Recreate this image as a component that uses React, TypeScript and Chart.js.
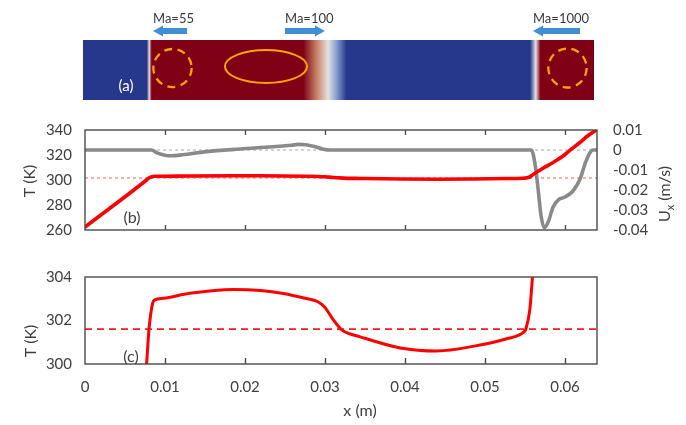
import { useEffect, useRef } from 'react';
import { Chart, registerables } from 'chart.js';

Chart.register(...registerables);

const FONT_FAMILY = 'Lato, "Open Sans", sans-serif';
const INK = '#404040';
const FRAME = '#4a4a4a';

// Shared horizontal axis: position along the channel (m)
const X_MAX = 0.064;
const xTicks = [0, 0.01, 0.02, 0.03, 0.04, 0.05, 0.06];
const xTickLabels = ['0', '0.01', '0.02', '0.03', '0.04', '0.05', '0.06'];

// Temperature profile T(x), K
const tempX = [
  0, 0.0077, 0.008, 0.00846, 0.00875, 0.0098, 0.0131, 0.0185, 0.022, 0.0248, 0.0275,
  0.0291, 0.03, 0.031, 0.0318, 0.0323, 0.0344, 0.0394, 0.044, 0.0485, 0.0527, 0.0548,
  0.0551, 0.0556, 0.056, 0.0573, 0.0585, 0.0598, 0.0606, 0.0619, 0.0629, 0.064,
];
const tempK = [
  262.4, 300.0, 301.6, 302.8, 302.95, 303.02, 303.25, 303.43, 303.38, 303.24, 303.02,
  302.86, 302.6, 302.05, 301.68, 301.52, 301.25, 300.74, 300.6, 300.81, 301.16, 301.45,
  301.6, 302.5, 304.3, 309.6, 314.0, 319.4, 323.7, 330.2, 335.6, 340.4,
];

// Axial velocity profile Ux(x), m/s
const velX = [
  0, 0.0083, 0.009, 0.01, 0.0108, 0.0122, 0.0152, 0.0194, 0.0235, 0.0258, 0.0267,
  0.0276, 0.0287, 0.0298, 0.0306, 0.0558, 0.0563, 0.0567, 0.057, 0.0574, 0.0579,
  0.0585, 0.0592, 0.06, 0.061, 0.0619, 0.0625, 0.0631, 0.0635, 0.064,
];
const velUx = [
  0, 0, -0.0014, -0.0026, -0.0029, -0.0024, -0.0008, 0.0005, 0.0016, 0.0024, 0.0028,
  0.0026, 0.0017, 0.0004, 0, 0, -0.0083, -0.0218, -0.0327, -0.0388, -0.036,
  -0.0286, -0.0248, -0.0235, -0.0205, -0.0144, -0.0069, -0.0015, 0, 0,
];

// Reference levels
const tempRef = 301.6;
const velRef = 0;

// Vertical axes
const tTicksFull = [260, 280, 300, 320, 340];
const uTicks = [-0.04, -0.03, -0.02, -0.01, 0, 0.01];
const uTickLabels = ['-0.04', '-0.03', '-0.02', '-0.01', '0', '0.01'];
const tTicksZoom = [300, 302, 304];

// Phase indicator along the channel (0 = gas, 1 = liquid)
const phaseX = [0, 0.008, 0.0083, 0.0086, 0.0276, 0.0293, 0.0307, 0.0318, 0.033, 0.056, 0.0567, 0.0573, 0.064];
const phaseV = [0, 0, 0.5, 1, 1, 0.75, 0.5, 0.25, 0, 0, 0.5, 1, 1];

// Vortex outlines in the field: centre (x, relative height) and semi-axes
const vortexX = [0.01121, 0.02292, 0.06068];
const vortexY = [0.533, 0.558, 0.533];
const vortexRx = [0.0024, 0.00514, 0.0024];
const vortexRy = [0.317, 0.275, 0.325];
const vortexDashed = [true, false, true];

// Interface motion: label, arrow tail and head (x, m)
const machLabels = ['Ma=55', 'Ma=100', 'Ma=1000'];
const arrowTail = [0.01303, 0.0253, 0.06225];
const arrowHead = [0.00877, 0.0303, 0.05636];

const PHASE_RAMP = [
  [38, 56, 140],
  [128, 155, 206],
  [228, 226, 222],
  [200, 132, 104],
  [128, 0, 22],
];

function phaseColor(v: number) {
  const t = Math.max(0, Math.min(1, v)) * 4;
  const i = Math.min(3, Math.floor(t));
  const f = t - i;
  const a = PHASE_RAMP[i];
  const b = PHASE_RAMP[i + 1];
  const c = a.map((av, k) => Math.round(av + (b[k] - av) * f));
  return `rgb(${c[0]},${c[1]},${c[2]})`;
}

function font(size: number) {
  return `${size}px ${FONT_FAMILY}`;
}

function drawText(
  ctx: CanvasRenderingContext2D,
  s: string,
  x: number,
  y: number,
  size: number,
  color: string,
  rotate = false,
  align: CanvasTextAlign = 'center'
) {
  ctx.save();
  ctx.translate(x, y);
  if (rotate) ctx.rotate(-Math.PI / 2);
  ctx.font = font(size);
  ctx.fillStyle = color;
  ctx.textAlign = align;
  ctx.textBaseline = 'middle';
  ctx.fillText(s, 0, 0);
  ctx.restore();
}

function drawUxTitle(ctx: CanvasRenderingContext2D, cx: number, cy: number) {
  ctx.save();
  ctx.translate(cx, cy);
  ctx.rotate(-Math.PI / 2);
  ctx.fillStyle = INK;
  ctx.textBaseline = 'middle';
  ctx.textAlign = 'left';
  ctx.font = font(16);
  const wU = ctx.measureText('U').width;
  const wRest = ctx.measureText(' (m/s)').width;
  ctx.font = font(11);
  const wx = ctx.measureText('x').width;
  let x = -(wU + wx + wRest) / 2;
  ctx.font = font(16);
  ctx.fillText('U', x, 0);
  x += wU;
  ctx.font = font(11);
  ctx.fillText('x', x, 5);
  x += wx;
  ctx.font = font(16);
  ctx.fillText(' (m/s)', x, 0);
  ctx.restore();
}

function drawFrame(chart: Chart, topTicks: number, bottomTicks: number) {
  const { ctx, chartArea: a } = chart;
  const xs = chart.scales.x;
  ctx.save();
  ctx.strokeStyle = FRAME;
  ctx.lineWidth = 1.4;
  ctx.setLineDash([]);
  ctx.strokeRect(a.left, a.top, a.right - a.left, a.bottom - a.top);
  ctx.beginPath();
  xTicks.forEach((v) => {
    if (v <= 0) return;
    const px = Math.round(xs.getPixelForValue(v)) + 0.5;
    if (topTicks > 0) {
      ctx.moveTo(px, a.top);
      ctx.lineTo(px, a.top + topTicks);
    }
    if (bottomTicks > 0) {
      ctx.moveTo(px, a.bottom);
      ctx.lineTo(px, a.bottom - bottomTicks);
    }
  });
  ctx.stroke();
  ctx.restore();
}

const fieldPlugin = {
  id: 'phaseField',
  afterDraw(chart: Chart) {
    const { ctx, chartArea: a } = chart;
    const xs = chart.scales.x;
    const ys = chart.scales.y;
    ctx.save();

    // phase field colour band
    const grad = ctx.createLinearGradient(a.left, 0, a.right, 0);
    phaseX.forEach((v, i) => {
      const f = (xs.getPixelForValue(v) - a.left) / (a.right - a.left);
      grad.addColorStop(Math.max(0, Math.min(1, f)), phaseColor(phaseV[i]));
    });
    ctx.fillStyle = grad;
    ctx.fillRect(a.left, a.top, a.right - a.left, a.bottom - a.top);

    // vortex outlines
    ctx.strokeStyle = '#f7a400';
    vortexX.forEach((v, i) => {
      const cx = xs.getPixelForValue(v);
      const cy = ys.getPixelForValue(vortexY[i]);
      const rx = xs.getPixelForValue(v + vortexRx[i]) - cx;
      const ry = cy - ys.getPixelForValue(vortexY[i] + vortexRy[i]);
      ctx.lineWidth = vortexDashed[i] ? 2.3 : 2;
      ctx.setLineDash(vortexDashed[i] ? [8, 5.5] : []);
      ctx.beginPath();
      ctx.ellipse(cx, cy, rx, ry, 0, 0, Math.PI * 2);
      ctx.stroke();
    });
    ctx.setLineDash([]);

    // interface arrows with Mach labels
    const cy = a.top - 9;
    const shaft = 3;
    const head = 5.5;
    const headLen = 10;
    ctx.fillStyle = '#3f8fd2';
    machLabels.forEach((label, i) => {
      const tx = xs.getPixelForValue(arrowTail[i]);
      const hx = xs.getPixelForValue(arrowHead[i]);
      const dir = Math.sign(tx - hx);
      const nx = hx + dir * headLen;
      ctx.beginPath();
      ctx.moveTo(hx, cy);
      ctx.lineTo(nx, cy - head);
      ctx.lineTo(nx, cy - shaft);
      ctx.lineTo(tx, cy - shaft);
      ctx.lineTo(tx, cy + shaft);
      ctx.lineTo(nx, cy + shaft);
      ctx.lineTo(nx, cy + head);
      ctx.closePath();
      ctx.fill();
      drawText(ctx, label, Math.min(tx, hx), a.top - 21, 13, '#3a3a3a', false, 'left');
    });

    drawText(ctx, '(a)', a.left + 43, a.top + 46, 15, '#ffffff');
    ctx.restore();
  },
};

const fullPlugin = {
  id: 'fullProfileDecor',
  afterDatasetsDraw(chart: Chart) {
    drawFrame(chart, 5, 5);
  },
  afterDraw(chart: Chart) {
    const { ctx, chartArea: a } = chart;
    drawText(ctx, 'T (K)', a.left - 55, a.top + 51, 16, INK, true);
    drawUxTitle(ctx, a.right + 68, a.top + 64);
    drawText(ctx, '(b)', a.left + 47, a.bottom - 12, 16, INK);
  },
};

const zoomPlugin = {
  id: 'zoomProfileDecor',
  afterDatasetsDraw(chart: Chart) {
    drawFrame(chart, 0, 6);
  },
  afterDraw(chart: Chart) {
    const { ctx, chartArea: a } = chart;
    drawText(ctx, 'T (K)', a.left - 54, a.top + 64, 16, INK, true);
    drawText(ctx, '(c)', a.left + 46, a.bottom - 7, 16, INK);
    drawText(ctx, 'x (m)', (a.left + a.right) / 2 + 19, a.bottom + 47, 16, INK);
  },
};

const tempPoints = tempX.map((x, i) => ({ x, y: tempK[i] }));
const velPoints = velX.map((x, i) => ({ x, y: velUx[i] }));

function refLine(value: number) {
  return [
    { x: 0, y: value },
    { x: X_MAX, y: value },
  ];
}

const tickFont = { family: FONT_FAMILY, size: 15 };

function valueAxis(position: 'left' | 'right', min: number, max: number, ticks: number[], labels: string[], width: number, padding: number) {
  return {
    type: 'linear' as const,
    position,
    min,
    max,
    grid: { display: false, drawTicks: false },
    border: { display: false },
    ticks: {
      padding,
      color: INK,
      font: tickFont,
      autoSkip: false,
      callback: (_v: any, i: number) => labels[i],
    },
    afterBuildTicks: (s: any) => {
      s.ticks = ticks.map((value) => ({ value }));
    },
    afterFit: (s: any) => {
      s.width = width;
    },
  };
}

const lineStyle = {
  pointRadius: 0,
  fill: false,
  cubicInterpolationMode: 'monotone' as const,
  borderJoinStyle: 'round' as const,
  borderCapStyle: 'round' as const,
};

export default function App() {
  const fieldRef = useRef<HTMLCanvasElement>(null);
  const fullRef = useRef<HTMLCanvasElement>(null);
  const zoomRef = useRef<HTMLCanvasElement>(null);

  useEffect(() => {
    const common = {
      responsive: false,
      animation: false as const,
      devicePixelRatio: 1,
      events: [] as any[],
    };

    const field = new Chart(fieldRef.current!, {
      type: 'scatter',
      data: { datasets: [] },
      options: {
        ...common,
        layout: { padding: { left: 83, right: 92, top: 40, bottom: 5 } },
        plugins: { legend: { display: false }, tooltip: { enabled: false } },
        scales: {
          x: { type: 'linear', min: 0, max: X_MAX, display: false },
          y: { type: 'linear', min: 0, max: 1, display: false },
        },
      },
      plugins: [fieldPlugin],
    } as any);

    const full = new Chart(fullRef.current!, {
      type: 'line',
      data: {
        datasets: [
          { data: tempPoints, yAxisID: 'yT', borderColor: '#ff0000', borderWidth: 3.6, ...lineStyle },
          { data: velPoints, yAxisID: 'yU', borderColor: '#8a8a8a', borderWidth: 3.6, ...lineStyle },
          { data: refLine(tempRef), yAxisID: 'yT', borderColor: '#ff5a5a', borderWidth: 1, borderDash: [3, 3], pointRadius: 0 },
          { data: refLine(velRef), yAxisID: 'yU', borderColor: '#a8a8a8', borderWidth: 1, borderDash: [3, 3], pointRadius: 0 },
        ],
      },
      options: {
        ...common,
        layout: { padding: { left: 0, right: 0, top: 15, bottom: 12 } },
        plugins: { legend: { display: false }, tooltip: { enabled: false } },
        scales: {
          x: { type: 'linear', min: 0, max: X_MAX, display: false },
          yT: valueAxis('left', 260, 340, tTicksFull, tTicksFull.map(String), 85, 13),
          yU: valueAxis('right', -0.04, 0.01, uTicks, uTickLabels, 89, 16),
        },
      },
      plugins: [fullPlugin],
    } as any);

    const zoom = new Chart(zoomRef.current!, {
      type: 'line',
      data: {
        datasets: [
          { data: tempPoints, yAxisID: 'yT', borderColor: '#ff0000', borderWidth: 3, ...lineStyle },
          { data: refLine(tempRef), yAxisID: 'yT', borderColor: '#ff1a1a', borderWidth: 1.8, borderDash: [7, 5], pointRadius: 0 },
        ],
      },
      options: {
        ...common,
        layout: { padding: { left: 0, right: 89, top: 15, bottom: 0 } },
        plugins: { legend: { display: false }, tooltip: { enabled: false } },
        scales: {
          x: {
            type: 'linear',
            position: 'bottom',
            min: 0,
            max: X_MAX,
            grid: { display: false, drawTicks: false },
            border: { display: false },
            ticks: {
              padding: 14,
              color: INK,
              font: tickFont,
              maxRotation: 0,
              autoSkip: false,
              callback: (_v: any, i: number) => xTickLabels[i],
            },
            afterBuildTicks: (s: any) => {
              s.ticks = xTicks.map((value) => ({ value }));
            },
            afterFit: (s: any) => {
              s.height = 61;
            },
          },
          yT: valueAxis('left', 300, 304, tTicksZoom, tTicksZoom.map(String), 85, 13),
        },
      },
      plugins: [zoomPlugin],
    } as any);

    return () => {
      field.destroy();
      full.destroy();
      zoom.destroy();
    };
  }, []);

  return (
    <div
      style={{
        position: 'fixed',
        left: 0,
        top: 0,
        width: 686,
        height: 425,
        background: '#ffffff',
        overflow: 'hidden',
      }}
    >
      <canvas ref={fieldRef} width={686} height={105} style={{ position: 'absolute', left: 0, top: 0 }} />
      <canvas ref={fullRef} width={686} height={150} style={{ position: 'absolute', left: 0, top: 105 }} />
      <canvas ref={zoomRef} width={686} height={170} style={{ position: 'absolute', left: 0, top: 255 }} />
    </div>
  );
}
